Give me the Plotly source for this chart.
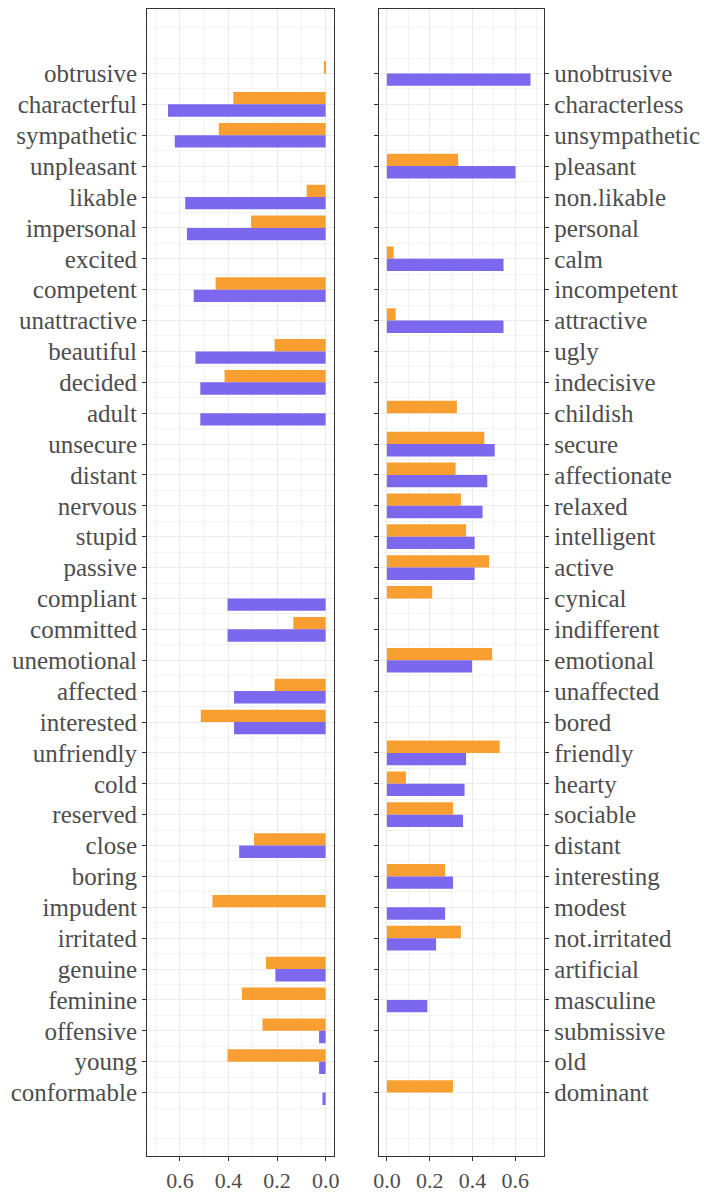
import plotly.graph_objects as go

left_labels = ["obtrusive", "characterful", "sympathetic", "unpleasant", "likable", "impersonal",
               "excited", "competent", "unattractive", "beautiful", "decided", "adult", "unsecure",
               "distant", "nervous", "stupid", "passive", "compliant", "committed", "unemotional",
               "affected", "interested", "unfriendly", "cold", "reserved", "close", "boring",
               "impudent", "irritated", "genuine", "feminine", "offensive", "young", "conformable"]
right_labels = ["unobtrusive", "characterless", "unsympathetic", "pleasant", "non.likable", "personal",
                "calm", "incompetent", "attractive", "ugly", "indecisive", "childish", "secure",
                "affectionate", "relaxed", "intelligent", "active", "cynical", "indifferent", "emotional",
                "unaffected", "bored", "friendly", "hearty", "sociable", "distant", "interesting",
                "modest", "not.irritated", "artificial", "masculine", "submissive", "old", "dominant"]

left_orange = [0.007, 0.38, 0.44, None, 0.078, 0.307, None, 0.453, None, 0.21, 0.416, None, None,
               None, None, None, None, None, 0.133, None, 0.21, 0.514, None, None, None, 0.295, None,
               0.466, None, 0.246, 0.345, 0.26, 0.404, None]
left_purple = [None, 0.649, 0.621, None, 0.578, 0.571, None, 0.543, None, 0.536, 0.516, 0.516, None,
               None, None, None, None, 0.404, 0.404, None, 0.377, 0.377, None, None, None, 0.356, None,
               None, None, 0.207, None, 0.027, 0.027, 0.013]
right_orange = [None, None, None, 0.333, None, None, 0.031, None, 0.041, None, None, 0.327, 0.455,
                0.321, 0.346, 0.370, 0.478, 0.212, None, 0.492, None, None, 0.527, 0.089, 0.309, None,
                0.272, None, 0.346, None, None, None, None, 0.309]
right_purple = [0.671, None, None, 0.601, None, None, 0.545, None, 0.545, None, None, None, 0.504,
                0.469, 0.447, 0.41, 0.41, None, None, 0.398, None, None, 0.37, 0.363, 0.356, None,
                0.309, 0.272, 0.23, None, 0.189, None, None, None]

x_ticks = [0.0, 0.2, 0.4, 0.6]
x_ticktext = ["0.0", "0.2", "0.4", "0.6"]

ORANGE = "#F99F31"
PURPLE = "#7B68EE"
FONT = "Liberation Serif"
rows = list(range(1, len(left_labels) + 1))

fig = go.Figure()
fig.add_trace(go.Bar(y=rows, x=left_orange, orientation="h", marker=dict(color=ORANGE, line=dict(width=0)),
                     xaxis="x", yaxis="y", showlegend=False))
fig.add_trace(go.Bar(y=rows, x=left_purple, orientation="h", marker=dict(color=PURPLE, line=dict(width=0)),
                     xaxis="x", yaxis="y", showlegend=False))
fig.add_trace(go.Bar(y=rows, x=right_orange, orientation="h", marker=dict(color=ORANGE, line=dict(width=0)),
                     xaxis="x2", yaxis="y2", showlegend=False))
fig.add_trace(go.Bar(y=rows, x=right_purple, orientation="h", marker=dict(color=PURPLE, line=dict(width=0)),
                     xaxis="x2", yaxis="y2", showlegend=False))

GRID = "#EBEBEB"
MINOR = "#F3F3F3"
LINE = "#333333"
TXT = "#4D4D4D"

xcommon = dict(tickvals=x_ticks, ticktext=x_ticktext, ticks="outside", ticklen=4, tickcolor=LINE,
               tickwidth=1.2, showline=True, linecolor=LINE, linewidth=1.2, mirror=True,
               showgrid=True, gridcolor=GRID, gridwidth=1, zeroline=False,
               tickfont=dict(family=FONT, size=22, color=TXT),
               minor=dict(tickmode="linear", tick0=0, dtick=0.1, showgrid=True, gridcolor=MINOR,
                          gridwidth=1, ticks=""))
ycommon = dict(tickmode="array", tickvals=rows, ticks="outside", ticklen=4, tickcolor=LINE,
               tickwidth=1.2, showline=True, linecolor=LINE, linewidth=1.2,
               showgrid=True, gridcolor=GRID, gridwidth=1, zeroline=False,
               range=[36.06, -1.08], tickfont=dict(family=FONT, size=25, color=TXT),
               minor=dict(tickmode="linear", tick0=0.5, dtick=1, showgrid=True, gridcolor=MINOR,
                          gridwidth=1, ticks=""))

fig.update_layout(
    width=704, height=1193,
    margin=dict(l=0, r=0, t=0, b=0),
    paper_bgcolor="white", plot_bgcolor="white",
    barmode="group", bargap=0.2, bargroupgap=0,
    showlegend=False,
    xaxis=dict(domain=[0.2036, 0.4735], range=[0.735, -0.035], anchor="y", **xcommon),
    yaxis=dict(domain=[0.0243, 0.9922], anchor="x", side="left", mirror=True,
               ticktext=left_labels, **ycommon),
    xaxis2=dict(domain=[0.5388, 0.7766], range=[-0.035, 0.735], anchor="y2", **xcommon),
    yaxis2=dict(domain=[0.0243, 0.9922], anchor="x2", side="right", mirror="ticks",
                ticktext=right_labels, **ycommon),
)

fig.write_html("out.html", config={"displayModeBar": False},
               post_script="document.body.style.margin='0';document.body.style.overflow='hidden';")
